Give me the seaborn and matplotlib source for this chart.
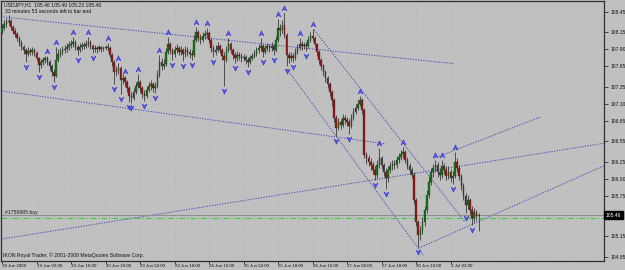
import numpy as np
import pandas as pd
import matplotlib
matplotlib.use("Agg")
import matplotlib.pyplot as plt
import matplotlib.transforms as mtransforms
from matplotlib.path import Path
import seaborn as sns

# ---------------- data ----------------
symbol_line = "USDJPY,H1  105.46 105.49 105.23 105.46"
timer_line = "33 minutes 53 seconds left to bar end"
order_label = "#1759985 buy"
copyright_line = "IKON Royal Trader, \u00a9 2001-2008 MetaQuotes Software Corp."

first_open = 108.15
closes = [
    108.21, 108.27, 108.30, 108.32, 108.23, 108.17, 108.13, 108.07, 107.99, 107.94,
    107.89, 107.83, 107.88, 107.86, 107.89, 107.85, 107.77, 107.67, 107.71, 107.74,
    107.77, 107.71, 107.66, 107.57, 107.51, 107.74, 107.83, 107.86, 107.89, 107.91,
    107.94, 107.96, 107.98, 108.01, 107.94, 107.89, 107.94, 107.96, 107.95, 107.98,
    108.01, 107.95, 107.91, 107.92, 107.91, 107.94, 107.91, 107.92, 107.94, 107.92,
    107.82, 107.71, 107.57, 107.60, 107.63, 107.45, 107.48, 107.42, 107.33, 107.21,
    107.19, 107.27, 107.36, 107.42, 107.33, 107.24, 107.21, 107.30, 107.36, 107.39,
    107.33, 107.36, 107.52, 107.71, 107.66, 107.69, 107.86, 107.98, 107.89, 107.83,
    107.89, 107.92, 107.86, 107.89, 107.83, 107.89, 107.86, 107.83, 107.82, 108.04,
    108.16, 108.07, 108.04, 108.10, 108.13, 108.14, 108.04, 107.92, 107.86, 107.89,
    107.95, 107.89, 107.80, 107.74, 107.89, 107.98, 107.89, 107.82, 107.77, 107.82,
    107.80, 107.77, 107.79, 107.74, 107.71, 107.77, 107.80, 107.83, 107.89, 107.92,
    107.95, 107.86, 107.92, 107.95, 107.92, 107.95, 107.89, 108.04, 108.21, 108.19,
    108.26, 108.11, 107.82, 107.77, 107.80, 107.77, 107.86, 107.92, 107.98, 107.95,
    107.96, 107.95, 108.04, 108.10, 108.07, 107.98, 107.86, 107.74, 107.66, 107.57,
    107.48, 107.39, 107.27, 107.16, 106.89, 106.74, 106.83, 106.79, 106.89, 106.86,
    106.83, 106.77, 106.89, 106.98, 107.04, 107.10, 107.16, 107.01, 106.35, 106.30,
    106.25, 106.20, 106.13, 106.05, 106.20, 106.30, 106.20, 106.10, 106.01, 106.13,
    106.19, 106.22, 106.20, 106.27, 106.32, 106.36, 106.39, 106.27, 106.19, 106.13,
    106.05, 105.69, 105.36, 105.17, 105.25, 105.36, 105.54, 105.76, 105.95, 106.10,
    106.16, 106.20, 106.10, 106.05, 106.19, 106.13, 106.04, 106.10, 106.01, 106.04,
    106.25, 106.16, 106.04, 105.89, 105.75, 105.61, 105.69, 105.54, 105.42, 105.51,
    105.45, 105.46,
]
highs = [
    108.27, 108.33, 108.36, 108.41, 108.35, 108.26, 108.21, 108.16, 108.10, 108.04,
    107.96, 107.92, 107.94, 107.92, 107.94, 107.92, 107.88, 107.79, 107.76, 107.79,
    107.80, 107.80, 107.74, 107.69, 107.61, 107.94, 107.91, 107.92, 107.95, 107.96,
    107.99, 108.02, 108.04, 108.08, 108.04, 107.96, 107.99, 108.01, 108.01, 108.04,
    108.08, 108.04, 107.98, 107.96, 107.95, 107.96, 107.95, 107.95, 107.96, 107.99,
    107.95, 107.85, 107.74, 107.66, 107.70, 107.66, 107.54, 107.51, 107.45, 107.36,
    107.27, 107.33, 107.42, 107.54, 107.45, 107.36, 107.30, 107.36, 107.42, 107.45,
    107.42, 107.42, 107.60, 107.82, 107.77, 107.76, 107.92, 108.08, 108.01, 107.92,
    107.95, 107.98, 107.95, 107.95, 107.92, 107.95, 107.94, 107.91, 107.89, 108.11,
    108.23, 108.19, 108.13, 108.16, 108.19, 108.21, 108.17, 108.07, 107.96, 107.96,
    108.01, 107.98, 107.92, 107.86, 107.95, 108.07, 108.01, 107.92, 107.86, 107.88,
    107.86, 107.85, 107.83, 107.82, 107.79, 107.82, 107.85, 107.89, 107.94, 107.98,
    108.07, 107.98, 107.96, 107.99, 107.98, 108.01, 107.98, 108.10, 108.35, 108.27,
    108.33, 108.44, 108.14, 107.86, 107.86, 107.85, 107.92, 107.98, 108.07, 108.02,
    108.01, 108.01, 108.10, 108.16, 108.20, 108.10, 107.99, 107.89, 107.77, 107.69,
    107.60, 107.51, 107.42, 107.30, 107.19, 106.94, 106.89, 106.88, 106.95, 106.94,
    106.91, 106.88, 106.95, 107.04, 107.10, 107.16, 107.21, 107.19, 107.04, 106.39,
    106.35, 106.30, 106.25, 106.19, 106.27, 106.45, 106.33, 106.23, 106.16, 106.19,
    106.25, 106.27, 106.27, 106.33, 106.38, 106.42, 106.46, 106.42, 106.32, 106.23,
    106.17, 106.10, 105.72, 105.39, 105.30, 105.44, 105.60, 105.83, 106.04, 106.16,
    106.22, 106.27, 106.25, 106.16, 106.27, 106.23, 106.19, 106.19, 106.14, 106.11,
    106.39, 106.30, 106.20, 106.07, 105.94, 105.79, 105.76, 105.72, 105.60, 105.57,
    105.54, 105.49,
]
lows = [
    108.13, 108.19, 108.23, 108.26, 108.19, 108.13, 108.08, 108.02, 107.95, 107.89,
    107.83, 107.71, 107.80, 107.82, 107.82, 107.80, 107.73, 107.57, 107.63, 107.67,
    107.70, 107.67, 107.60, 107.51, 107.42, 107.49, 107.71, 107.79, 107.82, 107.85,
    107.86, 107.89, 107.92, 107.94, 107.89, 107.82, 107.86, 107.89, 107.91, 107.92,
    107.94, 107.91, 107.85, 107.86, 107.85, 107.88, 107.86, 107.88, 107.89, 107.88,
    107.77, 107.66, 107.39, 107.51, 107.54, 107.24, 107.39, 107.36, 107.27, 107.13,
    107.11, 107.16, 107.24, 107.33, 107.27, 107.19, 107.14, 107.19, 107.27, 107.30,
    107.27, 107.26, 107.33, 107.49, 107.60, 107.61, 107.66, 107.83, 107.83, 107.74,
    107.79, 107.85, 107.82, 107.82, 107.73, 107.79, 107.80, 107.77, 107.74, 107.79,
    108.01, 108.02, 107.98, 108.01, 108.05, 108.07, 107.99, 107.86, 107.79, 107.82,
    107.86, 107.85, 107.74, 107.36, 107.71, 107.86, 107.85, 107.76, 107.70, 107.73,
    107.74, 107.71, 107.73, 107.69, 107.64, 107.69, 107.74, 107.77, 107.80, 107.85,
    107.88, 107.79, 107.83, 107.88, 107.86, 107.88, 107.82, 107.86, 108.01, 108.10,
    108.14, 108.07, 107.66, 107.70, 107.73, 107.71, 107.74, 107.83, 107.89, 107.89,
    107.91, 107.88, 107.92, 108.01, 108.02, 107.94, 107.80, 107.69, 107.60, 107.51,
    107.42, 107.33, 107.21, 107.07, 106.83, 106.63, 106.72, 106.73, 106.76, 106.80,
    106.77, 106.66, 106.74, 106.86, 106.95, 107.01, 107.07, 106.95, 106.30, 106.22,
    106.19, 106.13, 106.07, 105.98, 106.01, 106.16, 106.14, 106.04, 105.85, 105.95,
    106.08, 106.13, 106.14, 106.16, 106.23, 106.27, 106.30, 106.23, 106.14, 106.07,
    106.01, 105.63, 105.30, 104.99, 105.10, 105.19, 105.30, 105.50, 105.72, 105.91,
    106.02, 106.10, 106.02, 105.98, 106.01, 106.07, 105.98, 106.00, 105.95, 105.92,
    106.01, 106.10, 105.98, 105.83, 105.69, 105.50, 105.55, 105.48, 105.32, 105.36,
    105.39, 105.23,
]

up_fractals = [21, 25, 33, 40, 49, 54, 57, 63, 73, 77, 90, 95, 105, 120, 128, 131,
               138, 144, 166, 175, 186, 201, 204, 210]
down_fractals = [11, 17, 24, 35, 42, 52, 55, 59, 60, 66, 71, 79, 84, 88, 98, 103,
                 108, 114, 121, 126, 132, 135, 141, 155, 161, 173, 178, 193, 209,
                 215, 218]

# trend lines: (bar_start, price_start, bar_end, price_end)
trend_lines = [
    (-0.5, 108.38, 209.6, 107.69),
    (-0.5, 107.29, 178.1, 106.51),
    (-0.5, 105.11, 279.2, 106.52),
    (200.4, 106.30, 250.0, 106.91),
    (193.4, 104.98, 279.2, 106.19),
    (132.2, 107.61, 195.7, 104.86),
    (144.7, 108.19, 214.8, 105.36),
]

bid_price = 105.46
order_price = 105.42

x_tick_labels = ["18 Jun 2008", "19 Jun 02:00", "19 Jun 18:00", "20 Jun 10:00",
                 "23 Jun 02:00", "23 Jun 18:00", "24 Jun 10:00", "25 Jun 02:00",
                 "25 Jun 18:00", "26 Jun 10:00", "27 Jun 02:00", "27 Jun 18:00",
                 "30 Jun 10:00", "1 Jul 02:00"]
bars_per_label = 16
y_tick_values = [108.45, 108.15, 107.90, 107.65, 107.35, 107.10, 106.85,
                 106.55, 106.25, 106.00, 105.75, 105.15, 104.85]

# ---------------- build table ----------------
n = len(closes)
opens = [first_open] + closes[:-1]
df = pd.DataFrame({"bar": np.arange(n), "open": opens, "close": closes,
                   "high": highs, "low": lows})
df["high"] = df[["high", "open", "close"]].max(axis=1)
df["low"] = df[["low", "open", "close"]].min(axis=1)
df["up"] = df["close"] >= df["open"]

# ---------------- style ----------------
sns.set_style("ticks")
plt.rcParams["font.family"] = ["Liberation Sans", "DejaVu Sans"]
BG = "#C0C0C0"

fig = plt.figure(figsize=(6.25, 2.70), dpi=100, facecolor=BG)
ax = fig.add_axes([1 / 625, 9 / 270, 603 / 625, 260 / 270])
ax.set_facecolor(BG)
ax.set_xlim(-0.5, 279.2)
ax.set_ylim(104.789, 108.611)

# grid
ax.set_yticks(y_tick_values)
ax.set_xticks([k * bars_per_label for k in range(len(x_tick_labels))])
ax.grid(True, color="#B4B4B4", linestyle=(0, (1, 2.5)), linewidth=0.5, zorder=0)

# trend lines
for b0, p0, b1, p1 in trend_lines:
    ax.plot([b0, b1], [p0, p1], color="#5050B8", linestyle=(0, (1.2, 1.3)),
            linewidth=0.75, zorder=2)

# horizontal lines
ax.axhline(bid_price, color="#8E8E8E", linewidth=0.8, zorder=2)
ax.axhline(order_price, color="#3CCB3C", linewidth=0.8,
           linestyle=(0, (5, 2, 1, 2)), zorder=2)

# candles
ax.vlines(df["bar"], df["low"], df["high"], color="#3A3A3A", linewidth=0.6, zorder=3)
body_bottom = df[["open", "close"]].min(axis=1)
body_h = (df["close"] - df["open"]).abs().clip(lower=0.006)
body_col = np.where(df["up"], "#0E7A0E", "#A01212")
ax.bar(df["bar"], body_h, bottom=body_bottom, width=0.72, color=body_col,
       edgecolor="#2A2A2A", linewidth=0.25, zorder=4)

# fractal arrows
up_marker = Path([(0, 1), (0.9, -0.9), (0, -0.3), (-0.9, -0.9), (0, 1)],
                 [Path.MOVETO, Path.LINETO, Path.LINETO, Path.LINETO, Path.CLOSEPOLY])
down_marker = Path([(0, -1), (0.9, 0.9), (0, 0.3), (-0.9, 0.9), (0, -1)],
                   [Path.MOVETO, Path.LINETO, Path.LINETO, Path.LINETO, Path.CLOSEPOLY])
up_df = df.loc[up_fractals]
dn_df = df.loc[down_fractals]
tr_up = mtransforms.offset_copy(ax.transData, fig=fig, y=5, units="dots")
tr_dn = mtransforms.offset_copy(ax.transData, fig=fig, y=-5, units="dots")
sns.scatterplot(x=up_df["bar"], y=up_df["high"], marker=up_marker, s=15,
                color="#5A5AF0", edgecolor="#2A2AC8", linewidth=0.35,
                transform=tr_up, ax=ax, zorder=5, legend=False)
sns.scatterplot(x=dn_df["bar"], y=dn_df["low"], marker=down_marker, s=15,
                color="#5A5AF0", edgecolor="#2A2AC8", linewidth=0.35,
                transform=tr_dn, ax=ax, zorder=5, legend=False)
ax.set_xlabel("")
ax.set_ylabel("")

# axes frame and ticks
for side in ["left", "right", "top", "bottom"]:
    ax.spines[side].set_visible(True)
    ax.spines[side].set_color("#303030")
    ax.spines[side].set_linewidth(0.9)
ax.yaxis.tick_right()
ax.set_yticklabels([f"{v:.2f}" for v in y_tick_values])
ax.set_xticklabels(x_tick_labels)
for lbl in ax.get_xticklabels():
    lbl.set_horizontalalignment("left")
ax.tick_params(axis="y", which="both", length=3, width=0.6, color="#303030",
               labelsize=3.6, pad=1.5, labelcolor="#111111", left=False, right=True)
ax.tick_params(axis="x", which="both", length=2, width=0.6, color="#303030",
               labelsize=3.2, pad=0.4, labelcolor="#111111")

# current price box on the price axis
blend = mtransforms.blended_transform_factory(ax.transAxes, ax.transData)
ax.text(1.003, bid_price, f"{bid_price:.2f}", transform=blend, ha="left", va="center",
        fontsize=3.6, color="white", zorder=10, clip_on=False,
        bbox=dict(facecolor="black", edgecolor="black", boxstyle="square,pad=0.3"))

# texts
fig.text(4 / 625, 1 - 5 / 270, symbol_line, fontsize=3.7, color="#111111",
         ha="left", va="center")
fig.text(5 / 625, 1 - 11.5 / 270, timer_line, fontsize=3.7, color="#111111",
         ha="left", va="center")
ax.text(4 / 603, bid_price, order_label, transform=blend, fontsize=3.7,
        color="#222222", ha="left", va="bottom", zorder=6)
fig.text(3 / 625, 1 - 255.5 / 270, copyright_line, fontsize=3.7, color="#111111",
         ha="left", va="center")

fig.savefig("out.png", dpi=100, facecolor=BG)
